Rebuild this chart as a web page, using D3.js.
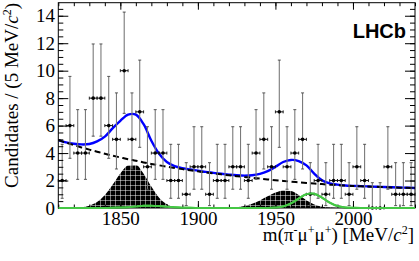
<!DOCTYPE html>
<html><head><meta charset="utf-8">
<script src="https://cdn.jsdelivr.net/npm/d3@7"></script>
<style>body{margin:0;background:#fff}svg{display:block}</style>
</head><body><svg id="c" width="419" height="261"></svg>
<script>
// ---- data ----
const binCenters = [1812.5,1817.5,1822.5,1827.5,1832.5,1837.5,1842.5,1847.5,1852.5,1857.5,
  1862.5,1867.5,1872.5,1877.5,1882.5,1887.5,1892.5,1897.5,1902.5,1907.5,
  1912.5,1917.5,1922.5,1927.5,1932.5,1937.5,1942.5,1947.5,1952.5,1957.5,
  1962.5,1967.5,1972.5,1977.5,1982.5,1987.5,1992.5,1997.5,2002.5,2007.5,
  2012.5,2017.5,2022.5,2027.5,2032.5,2037.5];
const counts = [2,6,4,4,8,8,6,5,10,5,
  7,3,4,4,2,2,1,3,3,1,
  2,2,3,3,2,4,5,3,7,3,
  4,5,1,2,1,2,2,1,3,2,
  0,0,3,1,1,1];
// Poisson 68% interval half-widths, indexed by count
const poissonLow  = [0,0.827,1.292,1.633,1.914,2.159,2.380,2.581,2.768,2.943,3.108];
const poissonHigh = [1.841,2.300,2.638,2.918,3.162,3.382,3.583,3.770,3.945,4.110,4.266];

const curveMass = [1810,1815,1820,1825,1830,1835,1840,1845,1850,1855,1860,1865,1870,1875,1880,1885,
  1890,1895,1900,1905,1910,1915,1920,1925,1930,1935,1940,1945,1950,1955,1960,1965,1970,1975,1980,
  1985,1990,1995,2000,2005,2010,2015,2020,2025,2030,2035,2040];
const totalFit = [4.95,4.78,4.68,4.63,4.66,4.85,5.2,5.8,6.35,6.8,6.8,6.1,4.9,3.95,3.35,3.05,
  2.90,2.80,2.72,2.63,2.56,2.49,2.43,2.38,2.36,2.38,2.48,2.68,3.0,3.35,3.5,3.42,3.1,2.5,2.02,
  1.80,1.70,1.64,1.61,1.59,1.57,1.55,1.53,1.51,1.49,1.48,1.46];
const background = [4.95,4.76,4.58,4.41,4.25,4.10,3.95,3.81,3.68,3.55,3.44,3.32,3.21,3.11,3.01,2.92,
  2.83,2.75,2.67,2.59,2.52,2.45,2.38,2.32,2.26,2.20,2.14,2.08,2.02,1.97,1.92,1.87,1.82,1.78,1.74,
  1.70,1.66,1.63,1.60,1.58,1.56,1.54,1.52,1.50,1.48,1.47,1.45];
const misIdPeaks = [0,0,0.01,0.05,0.17,0.43,0.94,1.69,2.51,3.09,3.14,2.50,1.56,0.75,0.28,0.08,
  0.02,0,0,0,0,0,0.02,0.06,0.15,0.31,0.55,0.85,1.12,1.28,1.24,0.94,0.56,0.26,0.09,
  0.03,0,0,0,0,0,0,0,0,0,0,0];
const signalPeaks = [0,0,0,0,0,0,0,0.01,0.03,0.06,0.11,0.16,0.17,0.14,0.09,0.05,
  0.02,0.01,0,0,0,0,0,0,0,0,0,0,0.03,0.11,0.33,0.69,1.01,1.04,0.76,
  0.39,0.14,0.04,0.01,0,0,0,0,0,0,0,0];
const xMajor = [1850,1900,1950,2000];
const yMajor = [0,2,4,6,8,10,12,14];

// ---- layout ----
const svg = d3.select('#c');
const L = 58.3, R = 415, T = 2.7, B = 208;
const x = d3.scaleLinear().domain([1810,2040]).range([L,R]);
const y = d3.scaleLinear().domain([0,14.95]).range([B,T]);
const serif = '"Liberation Serif","Times New Roman",serif';

const defs = svg.append('defs');
defs.append('clipPath').attr('id','clip').append('rect')
  .attr('x',L).attr('y',T).attr('width',R-L).attr('height',B-T+1);
const pat = defs.append('pattern').attr('id','hatch').attr('patternUnits','userSpaceOnUse')
  .attr('width',5).attr('height',5);
pat.append('rect').attr('width',5).attr('height',5).attr('fill','#000');
pat.append('line').attr('x1',0).attr('x2',5).attr('y1',0.5).attr('y2',0.5).attr('stroke','#fff').attr('stroke-width',0.6).attr('stroke-opacity',0.8);
pat.append('line').attr('y1',0).attr('y2',5).attr('x1',0.5).attr('x2',0.5).attr('stroke','#fff').attr('stroke-width',0.6).attr('stroke-opacity',0.8);

const g = svg.append('g').attr('clip-path','url(#clip)');
const pts = (arr)=>curveMass.map((m,i)=>[m,arr[i]]);
const line = d3.line().x(d=>x(d[0])).y(d=>y(d[1])).curve(d3.curveCatmullRom.alpha(0.5));
const area = d3.area().x(d=>x(d[0])).y0(y(0)).y1(d=>y(Math.max(0,d[1]))).curve(d3.curveMonotoneX);

g.append('path').attr('d',area(pts(misIdPeaks))).attr('fill','url(#hatch)');
g.append('path').attr('d',line(pts(signalPeaks))).attr('fill','none').attr('stroke','#44c744').attr('stroke-width',2);
g.append('path').attr('d',line(pts(totalFit))).attr('fill','none').attr('stroke','#0000ff').attr('stroke-width',2.4);
g.append('path').attr('d',line(pts(background))).attr('fill','none').attr('stroke','#000').attr('stroke-width',2).attr('stroke-dasharray','6,3.5');

// ---- data points ----
const dp = svg.append('g');
binCenters.forEach((c,i)=>{
  const n = counts[i];
  const cx = x(c), cy = y(n);
  const y1 = y(n - poissonLow[n]), y2 = y(n + poissonHigh[n]);
  dp.append('line').attr('x1',cx).attr('x2',cx).attr('y1',y1).attr('y2',y2).attr('stroke','#7a7a7a').attr('stroke-width',1.1);
  [y1,y2].forEach(yy=>dp.append('line').attr('x1',cx-1.5).attr('x2',cx+1.5).attr('y1',yy).attr('y2',yy).attr('stroke','#444').attr('stroke-width',0.9));
  const xa = x(c-2.5), xb = x(c+2.5);
  dp.append('line').attr('x1',xa).attr('x2',xb).attr('y1',cy).attr('y2',cy).attr('stroke','#111').attr('stroke-width',1);
  [xa,xb].forEach(xx=>dp.append('line').attr('x1',xx).attr('x2',xx).attr('y1',cy-1.5).attr('y2',cy+1.5).attr('stroke','#111').attr('stroke-width',0.9));
  dp.append('circle').attr('cx',cx).attr('cy',cy).attr('r',1.8).attr('fill','#000');
});

// ---- axes ----
const axStyle = sel => { sel.select('.domain').remove(); sel.selectAll('line').attr('stroke','#000').attr('stroke-width',1);
  sel.selectAll('text').attr('font-family',serif).attr('font-size',19).attr('fill','#000'); };
const xMinor = d3.range(1810,2041,10);
const yMinor = d3.range(0,14.95,0.5);
svg.append('g').attr('transform',`translate(0,${B})`).call(d3.axisBottom(x).tickValues(xMinor).tickSizeInner(-3.5).tickSizeOuter(0).tickFormat('')).call(axStyle);
svg.append('g').attr('transform',`translate(0,${B})`).call(d3.axisBottom(x).tickValues(xMajor).tickSizeInner(-7).tickSizeOuter(0).tickPadding(4).tickFormat(d3.format('d'))).call(axStyle);
svg.append('g').attr('transform',`translate(0,${T})`).call(d3.axisTop(x).tickValues(xMinor).tickSizeInner(-3.5).tickSizeOuter(0).tickFormat('')).call(axStyle);
svg.append('g').attr('transform',`translate(0,${T})`).call(d3.axisTop(x).tickValues(xMajor).tickSizeInner(-7).tickSizeOuter(0).tickFormat('')).call(axStyle);
svg.append('g').attr('transform',`translate(${L},0)`).call(d3.axisLeft(y).tickValues(yMinor).tickSizeInner(-5).tickSizeOuter(0).tickFormat('')).call(axStyle);
svg.append('g').attr('transform',`translate(${L},0)`).call(d3.axisLeft(y).tickValues(yMajor).tickSizeInner(-10).tickSizeOuter(0).tickPadding(3.3).tickFormat(d3.format('d'))).call(axStyle);
svg.append('g').attr('transform',`translate(${R},0)`).call(d3.axisRight(y).tickValues(yMinor).tickSizeInner(-5).tickSizeOuter(0).tickFormat('')).call(axStyle);
svg.append('g').attr('transform',`translate(${R},0)`).call(d3.axisRight(y).tickValues(yMajor).tickSizeInner(-10).tickSizeOuter(0).tickFormat('')).call(axStyle);
svg.append('rect').attr('x',L).attr('y',T).attr('width',R-L).attr('height',B-T).attr('fill','none').attr('stroke','#000').attr('stroke-width',1);
// green baseline redrawn over frame bottom
svg.append('g').attr('clip-path','url(#clip)').append('path').attr('d',line(pts(signalPeaks))).attr('fill','none').attr('stroke','#44c744').attr('stroke-width',2);

// ---- titles ----
const xt = svg.append('text').attr('x',414).attr('y',241).attr('text-anchor','end').attr('font-family',serif).attr('font-size',19);
xt.append('tspan').text('m(π');
xt.append('tspan').attr('font-size',12).attr('dy',-7).text('-');
xt.append('tspan').attr('dy',7).text('μ');
xt.append('tspan').attr('font-size',12).attr('dy',-7).text('+');
xt.append('tspan').attr('dy',7).text('μ');
xt.append('tspan').attr('font-size',12).attr('dy',-7).text('+');
xt.append('tspan').attr('dy',7).text(') [MeV/');
xt.append('tspan').attr('font-style','italic').text('c');
xt.append('tspan').attr('font-size',12).attr('dy',-7).text('2');
xt.append('tspan').attr('dy',7).text(']');

const yt = svg.append('text').attr('transform','translate(18,3) rotate(-90)').attr('text-anchor','end').attr('font-family',serif).attr('font-size',19);
yt.append('tspan').text('Candidates / (5 MeV/');
yt.append('tspan').attr('font-style','italic').text('c');
yt.append('tspan').attr('font-size',12).attr('dy',-7).text('2');
yt.append('tspan').attr('dy',7).text(')');

svg.append('text').attr('x',406).attr('y',37.5).attr('text-anchor','end').attr('font-family','"Liberation Sans",Arial,sans-serif').attr('font-weight','bold').attr('font-size',20).text('LHCb');
</script></body></html>
